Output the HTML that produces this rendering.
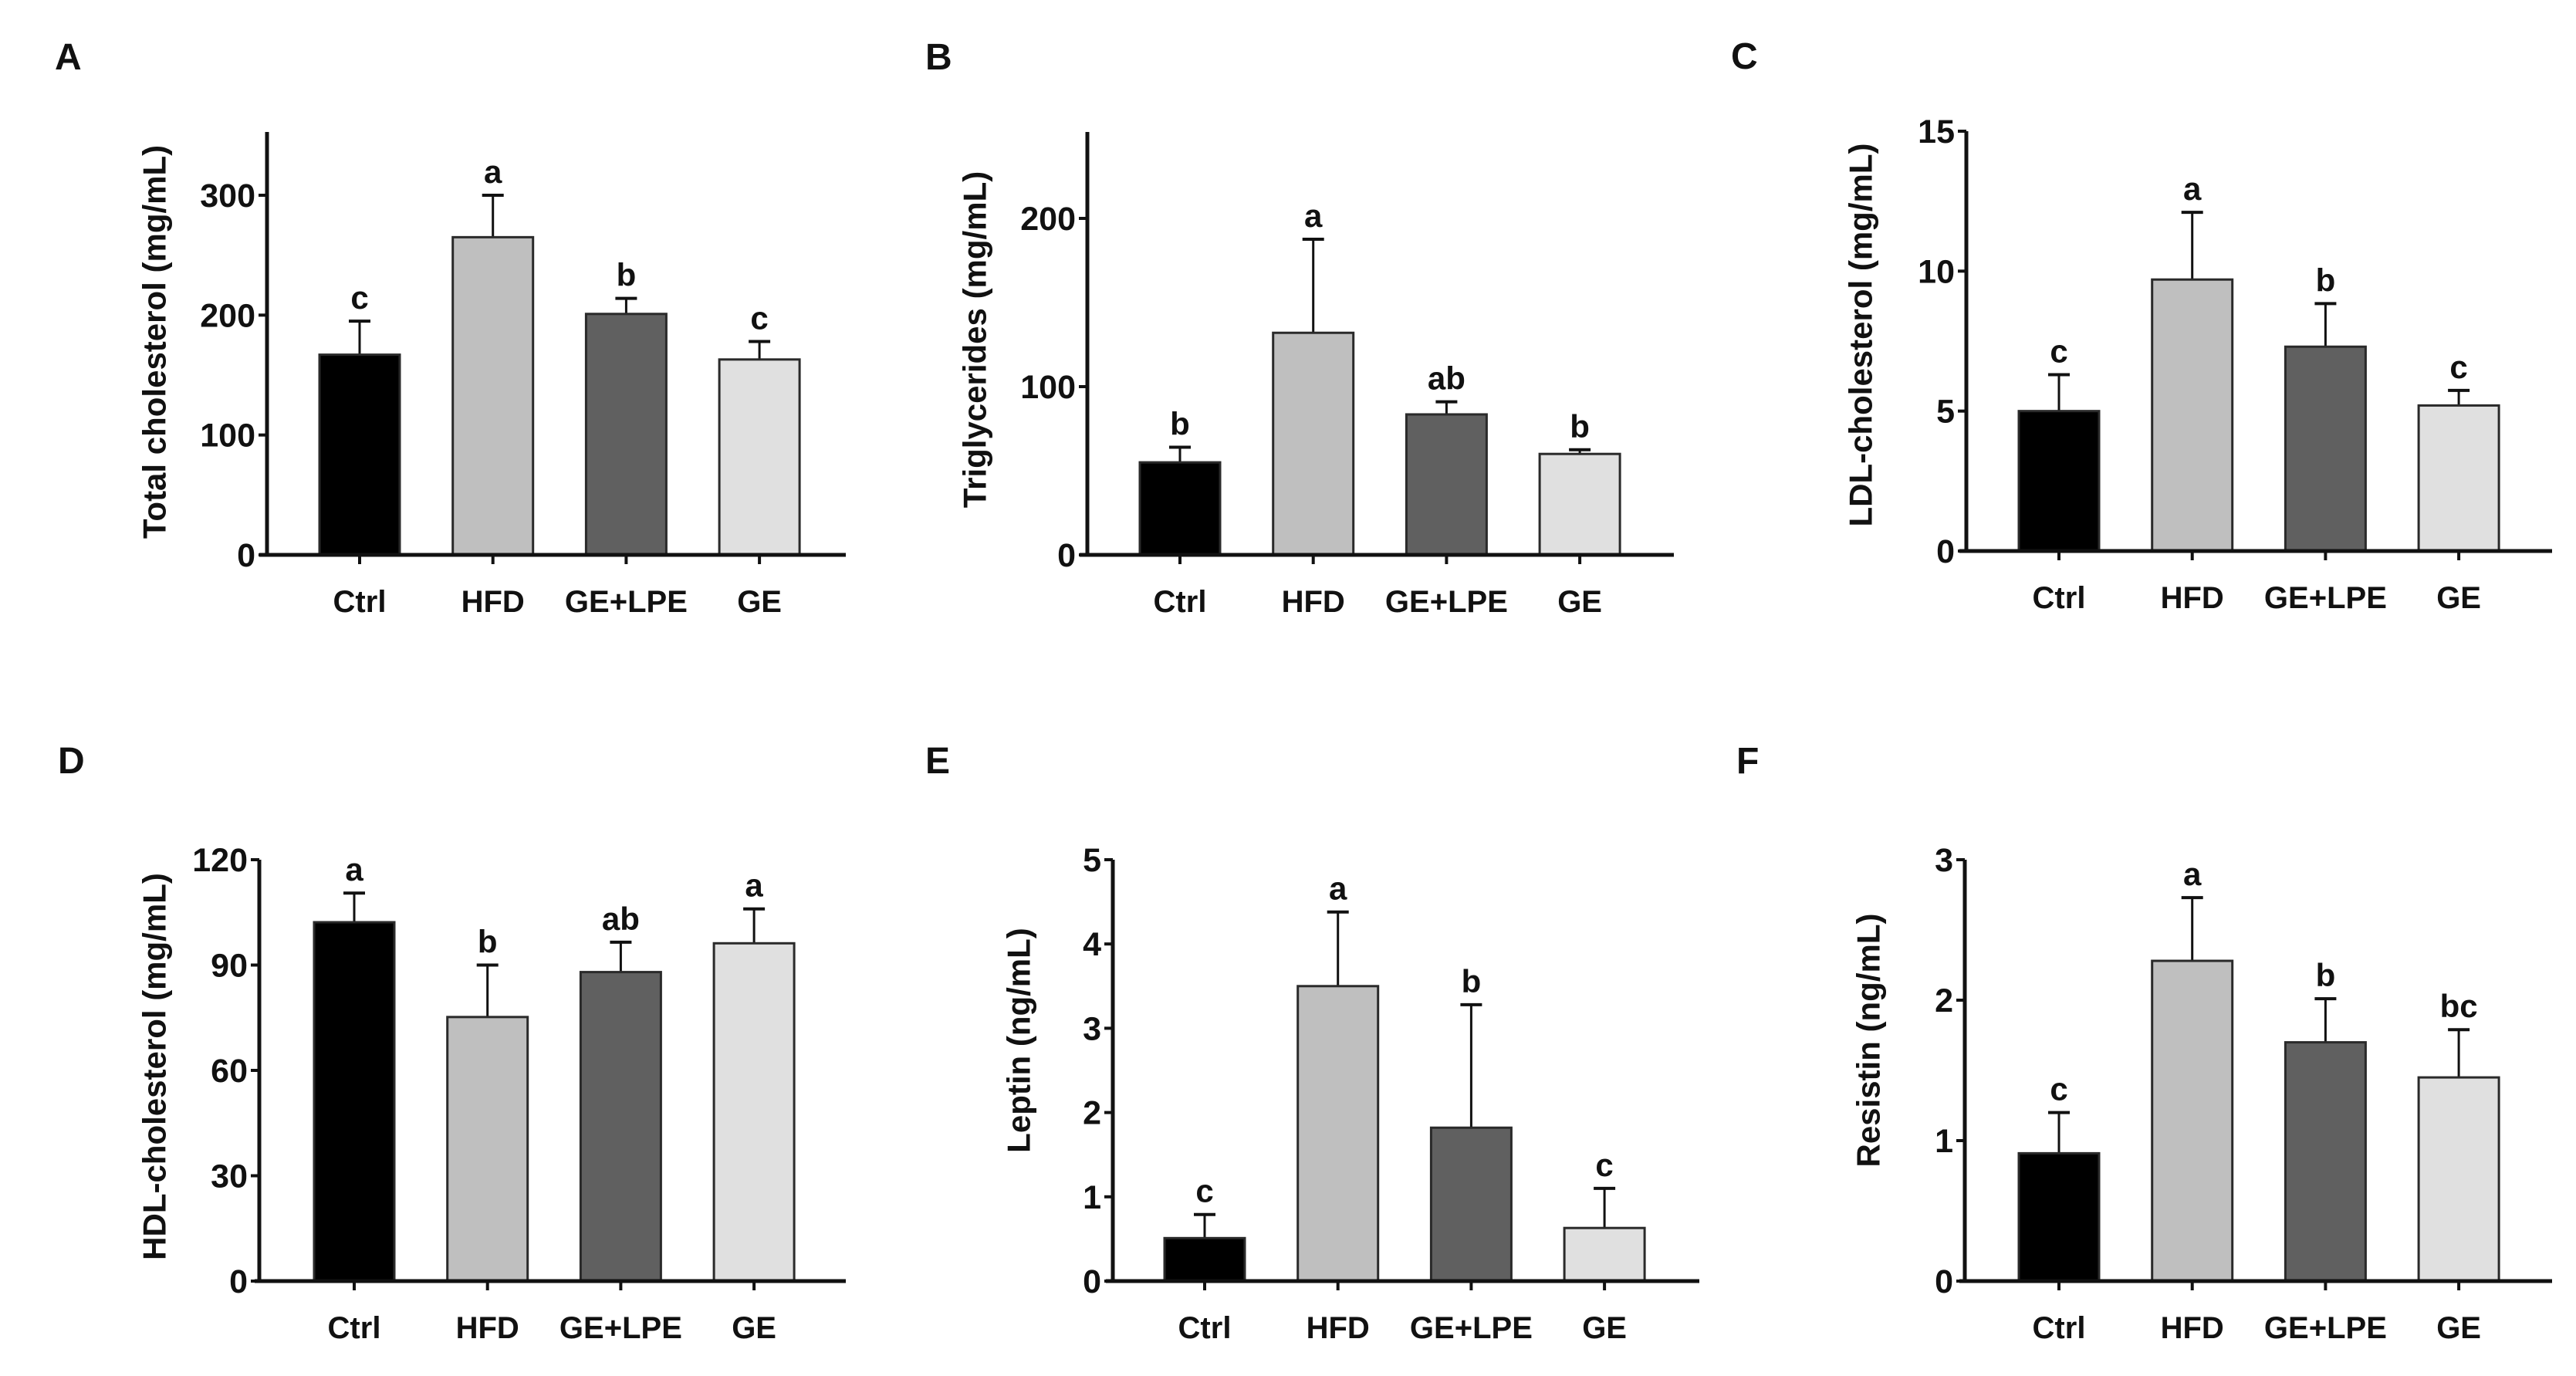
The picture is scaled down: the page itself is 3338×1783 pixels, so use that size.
<!DOCTYPE html>
<html><head><meta charset="utf-8">
<style>
html,body{margin:0;padding:0;background:#fff;}
svg{display:block;}
text{font-family:"Liberation Sans Narrow","Liberation Sans",sans-serif;font-weight:bold;fill:#111;}
</style></head>
<body>
<svg id="fig" width="3338" height="1783" viewBox="0 0 3338 1783" xmlns="http://www.w3.org/2000/svg"></svg>
<script>
const categories = ["Ctrl","HFD","GE+LPE","GE"];
const valsA = [167,265,201,163];   const errA = [195,300,214,178];   const lettA = ["c","a","b","c"];
const valsB = [55,132,83.5,60];    const errB = [64,187.6,91,62.5];  const lettB = ["b","a","ab","b"];
const valsC = [5.0,9.7,7.3,5.2];   const errC = [6.3,12.1,8.84,5.74];const lettC = ["c","a","b","c"];
const valsD = [102.2,75.2,88,96.2];const errD = [110.5,90,96.5,106]; const lettD = ["a","b","ab","a"];
const valsE = [0.51,3.5,1.82,0.63];const errE = [0.79,4.38,3.28,1.10];const lettE = ["c","a","b","c"];
const valsF = [0.91,2.28,1.70,1.45];const errF = [1.20,2.73,2.01,1.79];const lettF = ["c","a","b","bc"];
const ticksA = [0,100,200,300];
const ticksB = [0,100,200];
const ticksC = [0,5,10,15];
const ticksD = [0,30,60,90,120];
const ticksE = [0,1,2,3,4,5];
const ticksF = [0,1,2,3];
const titles = ["Total cholesterol (mg/mL)","Triglycerides (mg/mL)","LDL-cholesterol (mg/mL)","HDL-cholesterol (mg/mL)","Leptin (ng/mL)","Resistin (ng/mL)"];
const panelLetters = ["A","B","C","D","E","F"];
const fills = ["#000000","#bfbfbf","#606060","#e0e0e0"];

const panels = [
 {vals:valsA,err:errA,lett:lettA,ticks:ticksA,refV:300,refY:253,zeroY:719,axisX:346,axisTop:171,xs:336,xe:1096,b0:414,lx:71,ly:90,tx:200,ty:443},
 {vals:valsB,err:errB,lett:lettB,ticks:ticksB,refV:200,refY:283,zeroY:719,axisX:1409,axisTop:171,xs:1399,xe:2169,b0:1477,lx:1199,ly:90,tx:1263,ty:440},
 {vals:valsC,err:errC,lett:lettC,ticks:ticksC,refV:15,refY:170,zeroY:714,axisX:2548,axisTop:170,xs:2539,xe:3307,b0:2616,lx:2243,ly:89,tx:2411,ty:434},
 {vals:valsD,err:errD,lett:lettD,ticks:ticksD,refV:120,refY:1114,zeroY:1660,axisX:336,axisTop:1114,xs:330,xe:1096,b0:407,lx:75,ly:1002,tx:200,ty:1382},
 {vals:valsE,err:errE,lett:lettE,ticks:ticksE,refV:5,refY:1114,zeroY:1660,axisX:1442,axisTop:1114,xs:1433,xe:2202,b0:1509,lx:1199,ly:1002,tx:1320,ty:1348},
 {vals:valsF,err:errF,lett:lettF,ticks:ticksF,refV:3,refY:1114,zeroY:1660,axisX:2546,axisTop:1114,xs:2539,xe:3307,b0:2616,lx:2250,ly:1002,tx:2421,ty:1348}
];
const NS="http://www.w3.org/2000/svg";
const svg=document.getElementById('fig');
function mk(tag,attrs,parent){const e=document.createElementNS(NS,tag);for(const k in attrs)e.setAttribute(k,attrs[k]);(parent||svg).appendChild(e);return e;}
const pitch=172.7, bw=104;
panels.forEach((p,pi)=>{
  const g=mk('g',{});
  
  
  const y=v=>p.zeroY-(p.zeroY-p.refY)*v/p.refV;
  const lab=mk('text',{x:p.lx,y:p.ly,'font-size':48},g);
  lab.textContent=panelLetters[pi];
  
  
  const t=mk('text',{x:p.tx,y:p.ty,'font-size':42,'text-anchor':'middle','dominant-baseline':'central',transform:`rotate(-90 ${p.tx} ${p.ty})`},g);
  t.textContent=titles[pi];
  
  
  // bars
  categories.forEach((c,i)=>{
    const x=p.b0+pitch*i, cx=x+bw/2;
    const top=y(p.vals[i]), et=y(p.err[i]);
    const el=mk('line',{x1:cx,x2:cx,y1:top,y2:et,stroke:'#111','stroke-width':3},g);
    
    
    const cap=mk('line',{x1:cx-14,x2:cx+14,y1:et,y2:et,stroke:'#111','stroke-width':4},g);
    
    
    const r=mk('rect',{x:x,y:top,width:bw,height:p.zeroY-top,fill:fills[i],stroke:'#2a2a2a','stroke-width':3},g);
    
    
    const lt=mk('text',{x:cx,y:et-16,'font-size':42,'text-anchor':'middle'},g);
    lt.textContent=p.lett[i];
    
    
    const tk=mk('line',{x1:cx,x2:cx,y1:p.zeroY,y2:p.zeroY+12,stroke:'#111','stroke-width':4},g);
    
    
    const cl=mk('text',{x:cx,y:p.zeroY+74,'font-size':40,'text-anchor':'middle'},g);
    cl.textContent=c;
    
    
  });
  // axes
  const ya=mk('line',{x1:p.axisX,x2:p.axisX,y1:p.axisTop,y2:p.zeroY+2,stroke:'#111','stroke-width':5},g);
  
  
  const xa=mk('line',{x1:p.xs,x2:p.xe,y1:p.zeroY,y2:p.zeroY,stroke:'#111','stroke-width':5},g);
  
  
  p.ticks.forEach(v=>{
    const yy=y(v);
    const tl=mk('line',{x1:p.axisX-11,x2:p.axisX,y1:yy,y2:yy,stroke:'#111','stroke-width':4},g);
    
    
    const tx=mk('text',{x:p.axisX-15,y:yy+15,'font-size':43,'text-anchor':'end'},g);
    tx.textContent=v;
    
    
  });
});
</script>
</body></html>
